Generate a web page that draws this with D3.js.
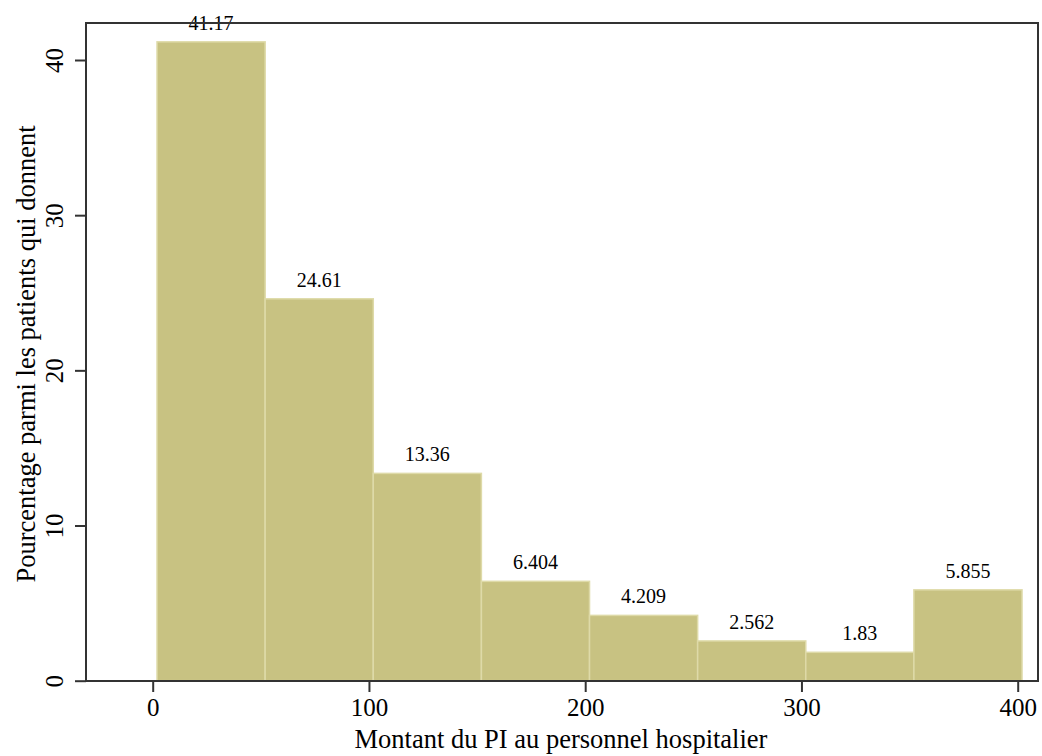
<!DOCTYPE html>
<html>
<head>
<meta charset="utf-8">
<script src="https://cdn.jsdelivr.net/npm/d3@7"></script>
<style>
  html, body { margin: 0; padding: 0; background: #fff; }
  svg { display: block; }
  text { font-family: "Liberation Serif", "Times New Roman", serif; fill: #000; }
</style>
</head>
<body>
<svg id="chart" width="1042" height="756"></svg>
<script>
const binStarts = [2, 52, 102, 152, 202, 252, 302, 352];
const binWidth = 50;
const percents = [41.17, 24.61, 13.36, 6.404, 4.209, 2.562, 1.83, 5.855];
const barLabels = ["41.17", "24.61", "13.36", "6.404", "4.209", "2.562", "1.83", "5.855"];
const xTicks = [0, 100, 200, 300, 400];
const yTicks = [0, 10, 20, 30, 40];
const xTitle = "Montant du PI au personnel hospitalier";
const yTitle = "Pourcentage parmi les patients qui donnent";

const svg = d3.select("#chart");
const frame = { left: 86, right: 1038, top: 23, bottom: 681 };

const x = d3.scaleLinear().domain([0, 400]).range([152.7, 1017.7]);
const y = d3.scaleLinear().domain([0, 40]).range([680.7, 60]);

const data = binStarts.map((s, i) => ({ x0: s, x1: s + binWidth, v: percents[i], label: barLabels[i] }));

// bars
svg.append("g").selectAll("rect").data(data).join("rect")
  .attr("x", d => x(d.x0))
  .attr("y", d => y(d.v))
  .attr("width", d => x(d.x1) - x(d.x0))
  .attr("height", d => y(0) - y(d.v))
  .attr("fill", "#c8c282")
  .attr("stroke", "#dedaa8")
  .attr("stroke-width", 1.5);

// bar labels
svg.append("g").selectAll("text").data(data).join("text")
  .attr("x", d => (x(d.x0) + x(d.x1)) / 2)
  .attr("y", d => y(d.v) - 12)
  .attr("text-anchor", "middle")
  .attr("font-size", 20)
  .text(d => d.label);

// frame
svg.append("rect")
  .attr("x", frame.left).attr("y", frame.top)
  .attr("width", frame.right - frame.left).attr("height", frame.bottom - frame.top)
  .attr("fill", "none").attr("stroke", "#333").attr("stroke-width", 2);

// x axis
const xAxis = d3.axisBottom(x).tickValues(xTicks).tickSize(11).tickPadding(6).tickFormat(d3.format("d"));
const gx = svg.append("g").attr("transform", `translate(0,${frame.bottom})`).call(xAxis);
gx.select(".domain").remove();
gx.selectAll(".tick line").attr("stroke", "#333").attr("stroke-width", 2);
gx.selectAll(".tick text").attr("font-size", 25).attr("font-family", "Liberation Serif").attr("fill", "#000");

// y axis
const yAxis = d3.axisLeft(y).tickValues(yTicks).tickSize(11).tickPadding(0).tickFormat(d3.format("d"));
const gy = svg.append("g").attr("transform", `translate(${frame.left},0)`).call(yAxis);
gy.select(".domain").remove();
gy.selectAll(".tick line").attr("stroke", "#333").attr("stroke-width", 2);
gy.selectAll(".tick text")
  .attr("font-size", 25).attr("font-family", "Liberation Serif").attr("fill", "#000")
  .attr("x", null).attr("dy", null)
  .attr("text-anchor", "middle")
  .attr("transform", "translate(-23,0) rotate(-90)");

// titles
svg.append("text")
  .attr("x", (frame.left + frame.right) / 2 - 1)
  .attr("y", 748)
  .attr("text-anchor", "middle")
  .attr("font-size", 26.5)
  .text(xTitle);

svg.append("text")
  .attr("transform", `translate(35,${(frame.top + frame.bottom) / 2 + 2}) rotate(-90)`)
  .attr("text-anchor", "middle")
  .attr("font-size", 26.5)
  .text(yTitle);
</script>
</body>
</html>
